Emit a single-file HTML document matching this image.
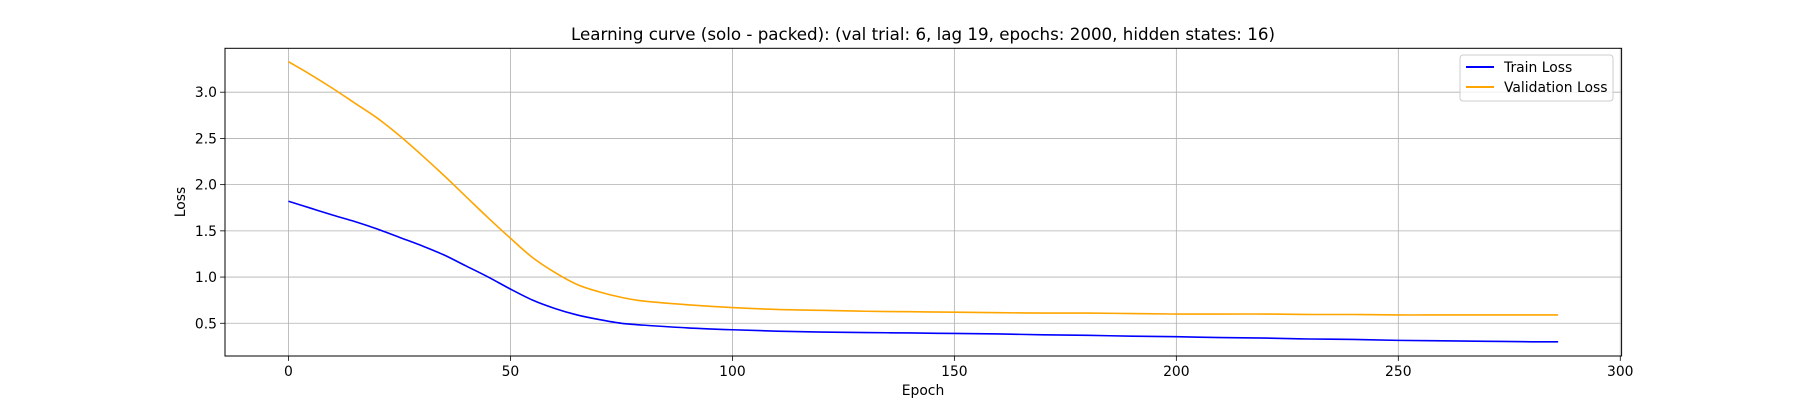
<!DOCTYPE html>
<html><head><meta charset="utf-8"><style>
html,body{margin:0;padding:0;background:#fff;}
svg{display:block;font-family:"DejaVu Sans","Liberation Sans",sans-serif;}
</style></head><body>
<svg id="chart" width="1800" height="400" viewBox="0 0 1800 400" xmlns="http://www.w3.org/2000/svg">
<rect width="1800" height="400" fill="#fff"/>
<g id="grid"></g>
<g id="series"></g>
<rect x="225" y="48.3" width="1396.6" height="307.7" fill="none" stroke="#000" stroke-width="1"/>
<g id="ticks"></g>
<text x="923" y="40" text-anchor="middle" font-size="16.7">Learning curve (solo - packed): (val trial: 6, lag 19, epochs: 2000, hidden states: 16)</text>
<text x="923" y="395" text-anchor="middle" font-size="13.9">Epoch</text>
<text transform="translate(185,202) rotate(-90)" text-anchor="middle" font-size="13.9">Loss</text>
<g>
<rect x="1460" y="55" width="153" height="46" rx="3" fill="#fff" fill-opacity="0.8" stroke="#ccc"/>
<line x1="1466" y1="67" x2="1494" y2="67" stroke="#0000ff" stroke-width="2"/>
<text x="1504" y="72" font-size="13.9">Train Loss</text>
<line x1="1466" y1="87" x2="1494" y2="87" stroke="#ffa500" stroke-width="2"/>
<text x="1504" y="92" font-size="13.9">Validation Loss</text>
</g>
</svg>
<script>
const epochs = [0,5,10,15,20,25,30,35,40,45,50,55,60,65,70,75,80,90,100,110,120,130,140,150,160,170,180,190,200,210,220,230,240,250,260,270,280,286];
const trainLoss = [1.82,1.745,1.67,1.60,1.52,1.43,1.34,1.24,1.12,1.00,0.87,0.75,0.66,0.59,0.54,0.50,0.48,0.45,0.43,0.415,0.405,0.40,0.395,0.39,0.385,0.375,0.37,0.36,0.355,0.345,0.34,0.33,0.325,0.315,0.31,0.305,0.30,0.30];
const valLoss = [3.33,3.19,3.04,2.88,2.72,2.53,2.32,2.10,1.87,1.64,1.42,1.21,1.05,0.92,0.84,0.78,0.74,0.70,0.67,0.65,0.64,0.63,0.625,0.62,0.615,0.61,0.61,0.605,0.60,0.60,0.60,0.595,0.595,0.59,0.59,0.59,0.59,0.59];
const xTicks = [0,50,100,150,200,250,300];
const yTicks = [0.5,1.0,1.5,2.0,2.5,3.0];

const NS = "http://www.w3.org/2000/svg";
const L=225, R=1621.6, T=48.3, B=356;
const xmin=-14.3, xmax=300.3, ymin=0.146, ymax=3.475;
const xs = v => L + (v - xmin) / (xmax - xmin) * (R - L);
const ys = v => B - (v - ymin) / (ymax - ymin) * (B - T);
function mk(tag, attrs){const e=document.createElementNS(NS,tag);for(const k in attrs)e.setAttribute(k,attrs[k]);return e;}
const grid=document.getElementById('grid'), ticks=document.getElementById('ticks'), series=document.getElementById('series');
xTicks.forEach(t=>{
  const x=xs(t);
  const g=mk('line',{x1:x,x2:x,y1:T,y2:B,stroke:'#b0b0b0','stroke-width':0.8});
  
  
  grid.appendChild(g);
  const tk=mk('line',{x1:x,x2:x,y1:B,y2:B+4.9,stroke:'#000','stroke-width':0.8});
  
  
  ticks.appendChild(tk);
  const tx=mk('text',{x:x,y:B+20,'text-anchor':'middle','font-size':13.9});
  
  
  tx.textContent=String(t);
  ticks.appendChild(tx);
});
yTicks.forEach(t=>{
  const y=ys(t);
  const g=mk('line',{x1:L,x2:R,y1:y,y2:y,stroke:'#b0b0b0','stroke-width':0.8});
  
  
  grid.appendChild(g);
  const tk=mk('line',{x1:L-4.9,x2:L,y1:y,y2:y,stroke:'#000','stroke-width':0.8});
  
  
  ticks.appendChild(tk);
  const tx=mk('text',{x:L-8,y:y+5,'text-anchor':'end','font-size':13.9});
  
  
  tx.textContent=t.toFixed(1);
  ticks.appendChild(tx);
});
function line(vals,color,name){
  const P=epochs.map((e,i)=>[xs(e),ys(vals[i])]);
  let d='M'+P[0][0].toFixed(2)+','+P[0][1].toFixed(2);
  for(let i=0;i<P.length-1;i++){
    const p0=P[Math.max(i-1,0)],p1=P[i],p2=P[i+1],p3=P[Math.min(i+2,P.length-1)];
    const c1x=p1[0]+(p2[0]-p0[0])/6,c1y=p1[1]+(p2[1]-p0[1])/6;
    const c2x=p2[0]-(p3[0]-p1[0])/6,c2y=p2[1]-(p3[1]-p1[1])/6;
    d+=' C'+c1x.toFixed(2)+','+c1y.toFixed(2)+' '+c2x.toFixed(2)+','+c2y.toFixed(2)+' '+p2[0].toFixed(2)+','+p2[1].toFixed(2);
  }
  const p=mk('path',{d:d,fill:'none',stroke:color,'stroke-width':1.6,'stroke-linejoin':'round'});
  
  
  series.appendChild(p);
}
line(trainLoss,'#0000ff','train-loss-line');
line(valLoss,'#ffa500','validation-loss-line');
</script>
</body></html>
